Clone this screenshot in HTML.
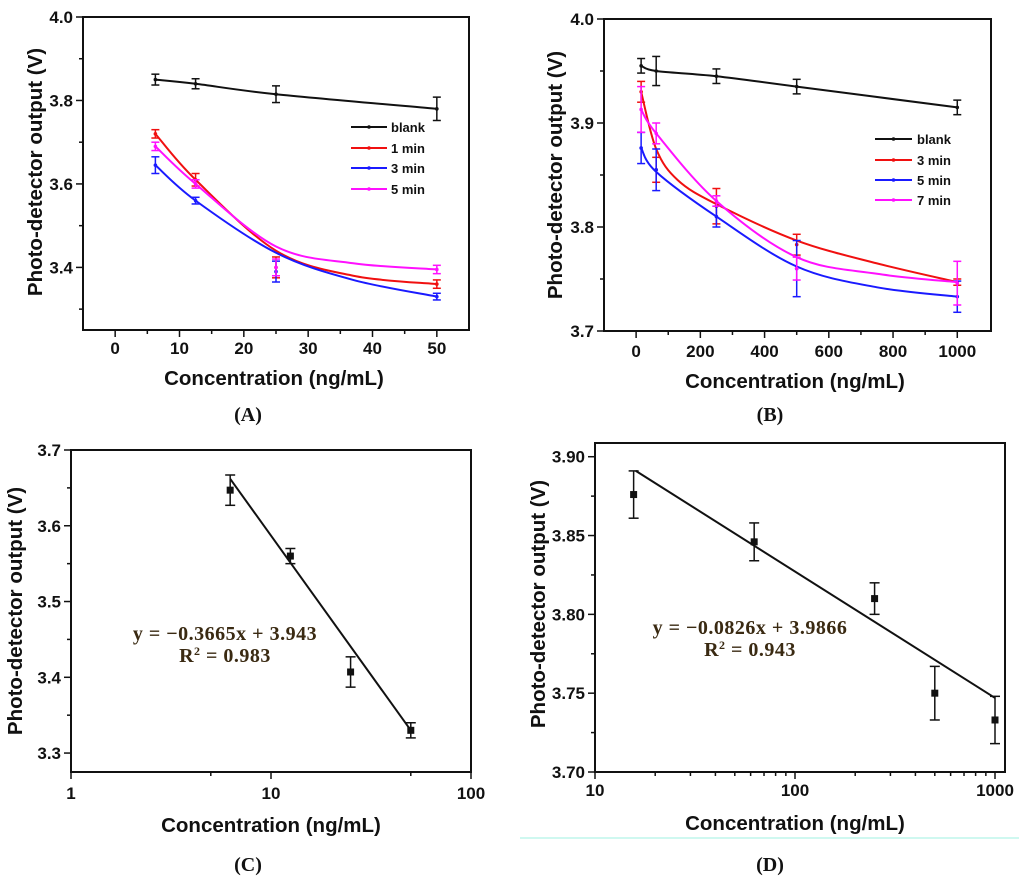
<!DOCTYPE html>
<html><head><meta charset="utf-8"><style>
body{margin:0;background:#fff}
svg{display:block}
text{font-family:"Liberation Sans",sans-serif;font-weight:bold;fill:#111}
.cap{font-family:"Liberation Serif",serif;font-size:20px}
.eq{font-family:"Liberation Serif",serif;font-size:20px;fill:#3a2a12;letter-spacing:0.5px}
</style></head><body>
<svg id="fig" width="1024" height="884" viewBox="0 0 1024 884" xmlns="http://www.w3.org/2000/svg"></svg>
<script>
// ---- Panel A data ----
const aX = [6.25, 12.5, 25, 50];
const aBlank = [3.85, 3.84, 3.815, 3.78];
const aBlankErr = [0.013, 0.012, 0.02, 0.028];
const a1 = [3.72, 3.61, 3.40, 3.36];
const a1Err = [0.01, 0.015, 0.025, 0.01];
const a3 = [3.645, 3.56, 3.39, 3.33];
const a3Err = [0.02, 0.008, 0.025, 0.008];
const a5 = [3.69, 3.60, 3.40, 3.395];
const a5Err = [0.01, 0.01, 0.02, 0.01];
const aFitX = [6.25, 12.5, 25, 37, 50];
const aFit1 = [3.72, 3.61, 3.44, 3.38, 3.36];
const aFit3 = [3.645, 3.56, 3.435, 3.37, 3.33];
const aFit5 = [3.69, 3.60, 3.45, 3.41, 3.395];
const aXTicks = [0, 10, 20, 30, 40, 50];
const aYTicks = [3.4, 3.6, 3.8, 4.0];
const aLegend = ["blank", "1 min", "3 min", "5 min"];
// ---- Panel B data ----
const bX = [15.6, 62.5, 250, 500, 1000];
const bBlank = [3.955, 3.95, 3.945, 3.935, 3.915];
const bBlankErr = [0.007, 0.014, 0.007, 0.007, 0.007];
const b3 = [3.93, 3.855, 3.82, 3.783, 3.747];
const b3Err = [0.01, 0.012, 0.017, 0.01, 0.003];
const b5 = [3.876, 3.855, 3.81, 3.76, 3.733];
const b5Err = [0.015, 0.02, 0.01, 0.027, 0.015];
const b7 = [3.913, 3.89, 3.825, 3.76, 3.746];
const b7Err = [0.022, 0.01, 0.005, 0.011, 0.021];
const bFit3X = [15.6, 62.5, 130, 250, 500, 750, 1000];
const bFit3 = [3.93, 3.875, 3.845, 3.822, 3.787, 3.765, 3.747];
const bFitX = [15.6, 62.5, 250, 500, 750, 1000];
const bFit5 = [3.876, 3.853, 3.81, 3.762, 3.742, 3.733];
const bFit7 = [3.913, 3.89, 3.825, 3.771, 3.755, 3.747];
const bXTicks = [0, 200, 400, 600, 800, 1000];
const bYTicks = [3.7, 3.8, 3.9, 4.0];
const bLegend = ["blank", "3 min", "5 min", "7 min"];
// ---- Panel C data ----
const cX = [6.25, 12.5, 25, 50];
const cY = [3.647, 3.56, 3.407, 3.33];
const cErr = [0.02, 0.01, 0.02, 0.01];
const cFitX = [6.25, 50];
const cFitY = [3.662, 3.33];
const cXTicks = [1, 10, 100];
const cYTicks = [3.3, 3.4, 3.5, 3.6, 3.7];
// ---- Panel D data ----
const dX = [15.6, 62.5, 250, 500, 1000];
const dY = [3.876, 3.846, 3.81, 3.75, 3.733];
const dErr = [0.015, 0.012, 0.01, 0.017, 0.015];
const dFitX = [16, 1000];
const dFitY = [3.891, 3.747];
const dXTicks = [10, 100, 1000];
const dYTicks = [3.70, 3.75, 3.80, 3.85, 3.90];

const NS = "http://www.w3.org/2000/svg";
const svg = document.getElementById("fig");
function el(tag, attrs, parent) {
  const e = document.createElementNS(NS, tag);
  for (const k in attrs) e.setAttribute(k, attrs[k]);
  (parent || svg).appendChild(e);
  return e;
}
function linScale(d0, d1, r0, r1) { return v => r0 + (v - d0) / (d1 - d0) * (r1 - r0); }
function logScale(d0, d1, r0, r1) { return v => r0 + (Math.log10(v) - Math.log10(d0)) / (Math.log10(d1) - Math.log10(d0)) * (r1 - r0); }
function smoothPath(pts) {
  let d = "M" + pts[0][0] + "," + pts[0][1];
  for (let i = 0; i < pts.length - 1; i++) {
    const p0 = pts[Math.max(0, i - 1)], p1 = pts[i], p2 = pts[i + 1], p3 = pts[Math.min(pts.length - 1, i + 2)];
    const c1 = [p1[0] + (p2[0] - p0[0]) / 6, p1[1] + (p2[1] - p0[1]) / 6];
    const c2 = [p2[0] - (p3[0] - p1[0]) / 6, p2[1] - (p3[1] - p1[1]) / 6];
    d += " C" + c1 + " " + c2 + " " + p2;
  }
  return d;
}
function frame(g, L, R, T, B) {
  const r = el("rect", {x: L, y: T, width: R - L, height: B - T, fill: "none", stroke: "#111", "stroke-width": 2}, g);
  
  
}
function yTicks(g, sy, L, ticks, minors, fmt) {
  minors.forEach(v => el("line", {x1: L, x2: L - 4, y1: sy(v), y2: sy(v), stroke: "#111", "stroke-width": 1.5}, g));
  ticks.forEach(v => {
    el("line", {x1: L, x2: L - 7, y1: sy(v), y2: sy(v), stroke: "#111", "stroke-width": 1.5}, g);
    const t = el("text", {x: L - 10, y: sy(v) + 6, "text-anchor": "end", "font-size": 17}, g);
    t.textContent = fmt(v);
    
    
  });
}
function xTicks(g, sx, B, ticks, minors, labelY) {
  minors.forEach(v => el("line", {x1: sx(v), x2: sx(v), y1: B, y2: B + 4, stroke: "#111", "stroke-width": 1.5}, g));
  ticks.forEach(v => {
    el("line", {x1: sx(v), x2: sx(v), y1: B, y2: B + 7, stroke: "#111", "stroke-width": 1.5}, g);
    const t = el("text", {x: sx(v), y: labelY, "text-anchor": "middle", "font-size": 17}, g);
    t.textContent = String(v);
    
    
  });
}
function titles(g, xT, xTY, yTX, yTY, cap, capX, capY) {
  const t1 = el("text", {x: xT, y: xTY, "text-anchor": "middle", "font-size": 20.5}, g);
  t1.textContent = "Concentration (ng/mL)";
  
  
  const t2 = el("text", {x: yTX, y: yTY, "text-anchor": "middle", "font-size": 20.5, transform: "rotate(-90 " + yTX + " " + yTY + ")"}, g);
  t2.textContent = "Photo-detector output (V)";
  
  
  const t3 = el("text", {x: capX, y: capY, "text-anchor": "middle", class: "cap"}, g);
  t3.innerHTML = '(<tspan font-weight="bold">' + cap + '</tspan>)';
  
  
}
function errBars(g, sx, sy, xs, ys, es, color, cap) {
  xs.forEach((x, i) => {
    const px = sx(x), y1 = sy(ys[i] + es[i]), y2 = sy(ys[i] - es[i]);
    el("line", {x1: px, x2: px, y1: y1, y2: y2, stroke: color, "stroke-width": 1.5}, g);
    el("line", {x1: px - cap, x2: px + cap, y1: y1, y2: y1, stroke: color, "stroke-width": 1.5}, g);
    el("line", {x1: px - cap, x2: px + cap, y1: y2, y2: y2, stroke: color, "stroke-width": 1.5}, g);
  });
}
function series(g, sx, sy, xs, ys, es, fx, fy, color, name) {
  const s = el("g", {}, g);
  
  
  const pts = fx.map((x, i) => [sx(x), sy(fy[i])]);
  el("path", {d: smoothPath(pts), fill: "none", stroke: color, "stroke-width": 2}, s);
  errBars(s, sx, sy, xs, ys, es, color, 4);
  xs.forEach((x, i) => el("circle", {cx: sx(x), cy: sy(ys[i]), r: 1.8, fill: color}, s));
}
function legend(g, x1, x2, tx, ys, labels, colors) {
  labels.forEach((lab, i) => {
    const e = el("g", {}, g);
    
    
    el("line", {x1: x1, x2: x2, y1: ys[i], y2: ys[i], stroke: colors[i], "stroke-width": 2}, e);
    el("circle", {cx: (x1 + x2) / 2, cy: ys[i], r: 1.8, fill: colors[i]}, e);
    const t = el("text", {x: tx, y: ys[i] + 5, "font-size": 13}, e);
    t.textContent = lab;
  });
}
const COL = ["#111", "#f01010", "#1a1aff", "#ff10ff"];
const range = (a, b, s) => { const r = []; for (let v = a; v <= b + 1e-9; v += s) r.push(+v.toFixed(4)); return r; };

// ---- Panel A ----
(function () {
  const g = el("g", {});  
  const L = 83, R = 469, T = 17, B = 330;
  const sx = linScale(-5, 55, L, R), sy = linScale(3.25, 4.0, B, T);
  frame(g, L, R, T, B);
  yTicks(g, sy, L, aYTicks, range(3.3, 3.9, 0.2), v => v.toFixed(1));
  xTicks(g, sx, B, aXTicks, range(5, 45, 10), 354);
  titles(g, 274, 385, 42, 172, "A", 248, 421);
  series(g, sx, sy, aX, aBlank, aBlankErr, aX, aBlank, COL[0], "series-blank");
  series(g, sx, sy, aX, a1, a1Err, aFitX, aFit1, COL[1], "series-1min");
  series(g, sx, sy, aX, a3, a3Err, aFitX, aFit3, COL[2], "series-3min");
  series(g, sx, sy, aX, a5, a5Err, aFitX, aFit5, COL[3], "series-5min");
  legend(g, 351, 387, 391, [127, 148, 168, 189], aLegend, COL);
})();
// ---- Panel B ----
(function () {
  const g = el("g", {});  
  const L = 604, R = 991, T = 19, B = 331;
  const sx = linScale(-100, 1105, L, R), sy = linScale(3.7, 4.0, B, T);
  frame(g, L, R, T, B);
  yTicks(g, sy, L, bYTicks, range(3.75, 3.95, 0.1), v => v.toFixed(1));
  xTicks(g, sx, B, bXTicks, range(100, 900, 200), 357);
  titles(g, 795, 388, 562, 175, "B", 770, 421);
  series(g, sx, sy, bX, bBlank, bBlankErr, bX, bBlank, COL[0], "series-blank");
  series(g, sx, sy, bX, b3, b3Err, bFit3X, bFit3, COL[1], "series-3min");
  series(g, sx, sy, bX, b5, b5Err, bFitX, bFit5, COL[2], "series-5min");
  series(g, sx, sy, bX, b7, b7Err, bFitX, bFit7, COL[3], "series-7min");
  legend(g, 875, 912, 917, [139, 160, 180, 200], bLegend, COL);
})();
// ---- Panel C ----
(function () {
  const g = el("g", {});  
  const L = 71, R = 471, T = 450, B = 772;
  const sx = logScale(1, 100, L, R), sy = linScale(3.275, 3.7, B, T);
  frame(g, L, R, T, B);
  yTicks(g, sy, L, cYTicks, range(3.35, 3.65, 0.1), v => v.toFixed(1));
  xTicks(g, sx, B, cXTicks, [5, 50], 799);
  titles(g, 271, 832, 22, 611, "C", 248, 871);
  el("line", {x1: sx(cFitX[0]), y1: sy(cFitY[0]), x2: sx(cFitX[1]), y2: sy(cFitY[1]), stroke: "#111", "stroke-width": 2}, g);
  errBars(g, sx, sy, cX, cY, cErr, "#111", 5);
  cX.forEach((x, i) => { const r = el("rect", {x: sx(x) - 3.5, y: sy(cY[i]) - 3.5, width: 7, height: 7, fill: "#111"}, g);   });
  const e1 = el("text", {x: 225, y: 640, "text-anchor": "middle", class: "eq"}, g); e1.textContent = "y = −0.3665x + 3.943";
   
  const e2 = el("text", {x: 225, y: 662, "text-anchor": "middle", class: "eq"}, g); e2.innerHTML = 'R<tspan dy="-7" font-size="12">2</tspan><tspan dy="7"> = 0.983</tspan>';
   
})();
// ---- Panel D ----
(function () {
  const g = el("g", {});  
  const L = 595, R = 1005, T = 443, B = 772;
  const sx = logScale(10, 1122, L, R), sy = linScale(3.7, 3.9087, B, T);
  frame(g, L, R, T, B);
  yTicks(g, sy, L, dYTicks, range(3.725, 3.875, 0.05), v => v.toFixed(2));
  const minors = []; [10, 100].forEach(b => { for (let k = 2; k <= 9; k++) minors.push(b * k); });
  xTicks(g, sx, B, dXTicks, minors, 796);
  titles(g, 795, 830, 545, 604, "D", 770, 871);
  el("line", {x1: 520, x2: 1019, y1: 838, y2: 838, stroke: "#9ff0e0", "stroke-width": 1}, g);
  el("line", {x1: sx(dFitX[0]), y1: sy(dFitY[0]), x2: sx(dFitX[1]), y2: sy(dFitY[1]), stroke: "#111", "stroke-width": 2}, g);
  errBars(g, sx, sy, dX, dY, dErr, "#111", 5);
  dX.forEach((x, i) => { const r = el("rect", {x: sx(x) - 3.5, y: sy(dY[i]) - 3.5, width: 7, height: 7, fill: "#111"}, g);   });
  const e1 = el("text", {x: 750, y: 634, "text-anchor": "middle", class: "eq"}, g); e1.textContent = "y = −0.0826x + 3.9866";
   
  const e2 = el("text", {x: 750, y: 656, "text-anchor": "middle", class: "eq"}, g); e2.innerHTML = 'R<tspan dy="-7" font-size="12">2</tspan><tspan dy="7"> = 0.943</tspan>';
   
})();
</script>
</body></html>
